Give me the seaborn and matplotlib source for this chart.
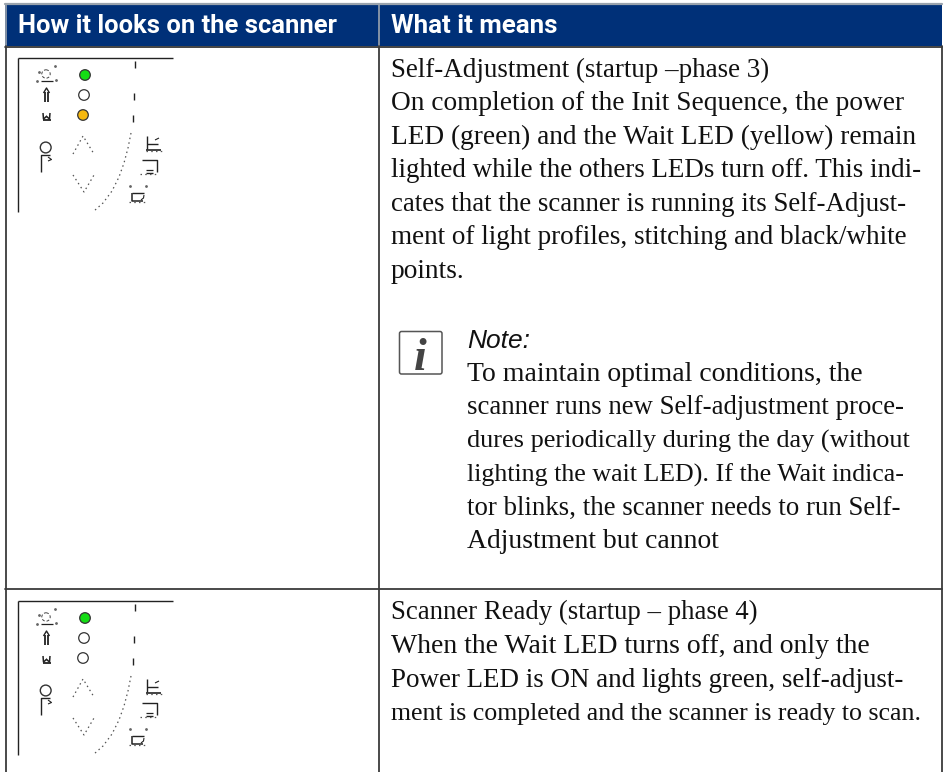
import matplotlib
matplotlib.use("Agg")
import matplotlib.pyplot as plt
import pandas as pd
import seaborn as sns

sns.set_theme(style="white")

# ---- content -------------------------------------------------------------
header_labels = ["How it looks on the scanner", "What it means"]

row1_lines = [
    "Self-Adjustment (startup –phase 3)",
    "On completion of the Init Sequence, the power",
    "LED (green) and the Wait LED (yellow) remain",
    "lighted while the others LEDs turn off. This indi-",
    "cates that the scanner is running its Self-Adjust-",
    "ment of light profiles, stitching and black/white",
    "points.",
]
row1_base = [77, 110, 144, 177, 211, 244, 278]
row1_size = [19.42, 19.75, 19.65, 19.44, 19.35, 19.55, 19.68]

note_title = "Note:"
note_lines = [
    "To maintain optimal conditions, the",
    "scanner runs new Self-adjustment proce-",
    "dures periodically during the day (without",
    "lighting the wait LED). If the Wait indica-",
    "tor blinks, the scanner needs to run Self-",
    "Adjustment but cannot",
]
note_base = [381, 414, 448, 482, 515, 548]
note_size = [20.0, 19.26, 18.94, 18.69, 19.4, 19.86]

row2_lines = [
    "Scanner Ready (startup – phase 4)",
    "When the Wait LED turns off, and only the",
    "Power LED is ON and lights green, self-adjust-",
    "ment is completed and the scanner is ready to scan.",
]
row2_base = [619, 653, 687, 720]
row2_size = [19.28, 20.02, 19.47, 18.64]

# LED states on the two panels
led_x = [85, 84, 83, 85, 84, 83]
led_y = [75, 95, 115, 618, 638, 658]
led_state = ["green", "off", "amber", "green", "off", "off"]
led_colors = {"green": "#14dd14", "off": "#ffffff", "amber": "#f6b80f"}

panel_offsets = [0, 543]

# pictogram strokes (x list, y list, line width)
solid_strokes = [
    ([18, 173], [57.5, 57.5], 1.0),
    ([18, 18], [57.5, 212], 1.0),
    ([134.5, 134.5], [61, 68], 1.0),
    ([133.5, 133.5], [93, 100], 1.0),
    ([132.5, 132.5], [115, 122], 1.0),
    ([40.7, 40.7, 50], [172, 155, 155], 1.0),
    ([48, 51.5, 48], [157, 159.5, 161], 0.8),
    ([41, 53], [81, 81], 0.9),
    ([44.5, 44.5], [92, 102], 1.3),
    ([48, 48], [92, 102], 1.3),
    ([43.5, 46.5, 49.5], [93, 88, 93], 1.0),
    ([42.5, 50.5], [119.5, 119.5], 1.3),
    ([43, 43.5, 47], [113, 119, 116], 1.1),
    ([50, 49.5, 46], [113, 119, 116], 1.1),
    ([147, 147], [136, 149], 1.0),
    ([147, 158], [143.5, 143.5], 1.0),
    ([146, 161], [149.5, 149.5], 1.2),
    ([155, 159], [140, 138], 0.8),
    ([142, 157, 157], [160, 160, 172], 1.0),
    ([146, 153], [170, 170], 0.9),
    ([146, 153], [173, 173], 1.0),
    ([132, 132, 143], [193, 201, 201], 1.1),
    ([132, 144], [193, 193], 1.0),
    ([141, 143.5, 144], [200, 198, 195], 0.8),
]
dotted_strokes = [
    ([131, 128, 124, 119, 112, 103, 94], [133, 148, 163, 177, 191, 203, 211]),
    ([73, 83, 94], [154, 136, 154]),
    ([73, 84, 94], [175, 192, 175]),
    ([146, 163], [151, 151]),
    ([140, 158], [174, 174]),
    ([129, 147], [202, 202]),
]
sparse_dots_x = [37, 55, 39, 56, 130, 146]
sparse_dots_y = [81, 66, 72, 80, 186, 186]
dashed_circles = [(46, 74, 4.2)]
solid_circles = [(45.7, 147.5, 5.4)]

# ---- colours / metrics ---------------------------------------------------
BLUE = "#003078"
BORDER = "#3a3a3a"
GREY = "#9aa3ad"
BODY_FONT = "Liberation Serif"

fig = plt.figure(figsize=(9.45, 7.72), dpi=100, facecolor="white")
ax = fig.add_axes([0, 0, 1, 1])
ax.set_xlim(0, 945)
ax.set_ylim(772, 0)
ax.axis("off")

# ---- table frame ---------------------------------------------------------
ax.fill_between([5, 942], 4.5, 45.5, color=BLUE, lw=0, zorder=1)
ax.plot([5, 942], [4, 4], color=GREY, lw=1.6, zorder=2)
ax.plot([5, 942], [46.5, 46.5], color="#222222", lw=1.2, zorder=2)
ax.plot([5.5, 5.5], [4, 46], color=GREY, lw=1.2, zorder=2)
ax.plot([378.5, 378.5], [4, 46], color=GREY, lw=1.2, zorder=2)
ax.plot([5.5, 5.5], [46, 772], color=BORDER, lw=1.3, zorder=2)
ax.plot([378.5, 378.5], [46, 772], color=BORDER, lw=1.3, zorder=2)
ax.plot([941.5, 941.5], [46, 772], color=BORDER, lw=1.3, zorder=2)
ax.plot([5, 942], [589, 589], color=BORDER, lw=1.3, zorder=2)

# ---- header --------------------------------------------------------------
ax.text(18, 33, header_labels[0], color="white", fontsize=18.4, fontweight="bold",
        family="Roboto", va="baseline", zorder=3)
ax.text(391, 33, header_labels[1], color="white", fontsize=18.6, fontweight="bold",
        family="Roboto", va="baseline", zorder=3)

# ---- body text -----------------------------------------------------------
for lines, bases, sizes, x0 in [(row1_lines, row1_base, row1_size, 391),
                                (note_lines, note_base, note_size, 467),
                                (row2_lines, row2_base, row2_size, 391)]:
    for line, y, size in zip(lines, bases, sizes):
        ax.text(x0, y, line, fontsize=size, family=BODY_FONT, color="#111111", va="baseline")

ax.text(467, 348, note_title, fontsize=19, family="Liberation Sans", style="italic",
        color="#111111", va="baseline")

# note icon
box = matplotlib.patches.FancyBboxPatch((399.5, 331.5), 42.5, 42.5, boxstyle="round,pad=0,rounding_size=2",
                                        fc="white", ec="#555555", lw=1.1)
ax.add_patch(box)
ax.text(420.5, 370, "i", fontsize=33, family="Liberation Serif", style="italic", fontweight="bold",
        color="#444444", ha="center", va="baseline")

# ---- pictograms ----------------------------------------------------------
for off in panel_offsets:
    for xs, ys, lw in solid_strokes:
        ax.plot(xs, [v + off for v in ys], color="#222222", lw=lw, zorder=2, solid_capstyle="butt")
    for xs, ys in dotted_strokes:
        ax.plot(xs, [v + off for v in ys], color="#555555", lw=0.9, ls=(0, (1.2, 2.6)), zorder=2)
    ax.plot(sparse_dots_x, [v + off for v in sparse_dots_y], ls="none", marker="o", ms=1.0, color="#666666")
    for cx, cy, r in dashed_circles:
        ax.add_patch(plt.Circle((cx, cy + off), r, fc="none", ec="#444444", lw=0.7, ls=(0, (3, 2))))
    for cx, cy, r in solid_circles:
        ax.add_patch(plt.Circle((cx, cy + off), r, fc="none", ec="#333333", lw=1.0))

leds = pd.DataFrame({"x": led_x, "y": led_y, "state": led_state})
sns.scatterplot(data=leds, x="x", y="y", hue="state", palette=led_colors, s=58,
                edgecolor="#333333", linewidth=0.9, legend=False, ax=ax, zorder=4, clip_on=False)
ax.set_xlim(0, 945)
ax.set_ylim(772, 0)
ax.axis("off")

fig.savefig("out.png", dpi=100, facecolor="white")
